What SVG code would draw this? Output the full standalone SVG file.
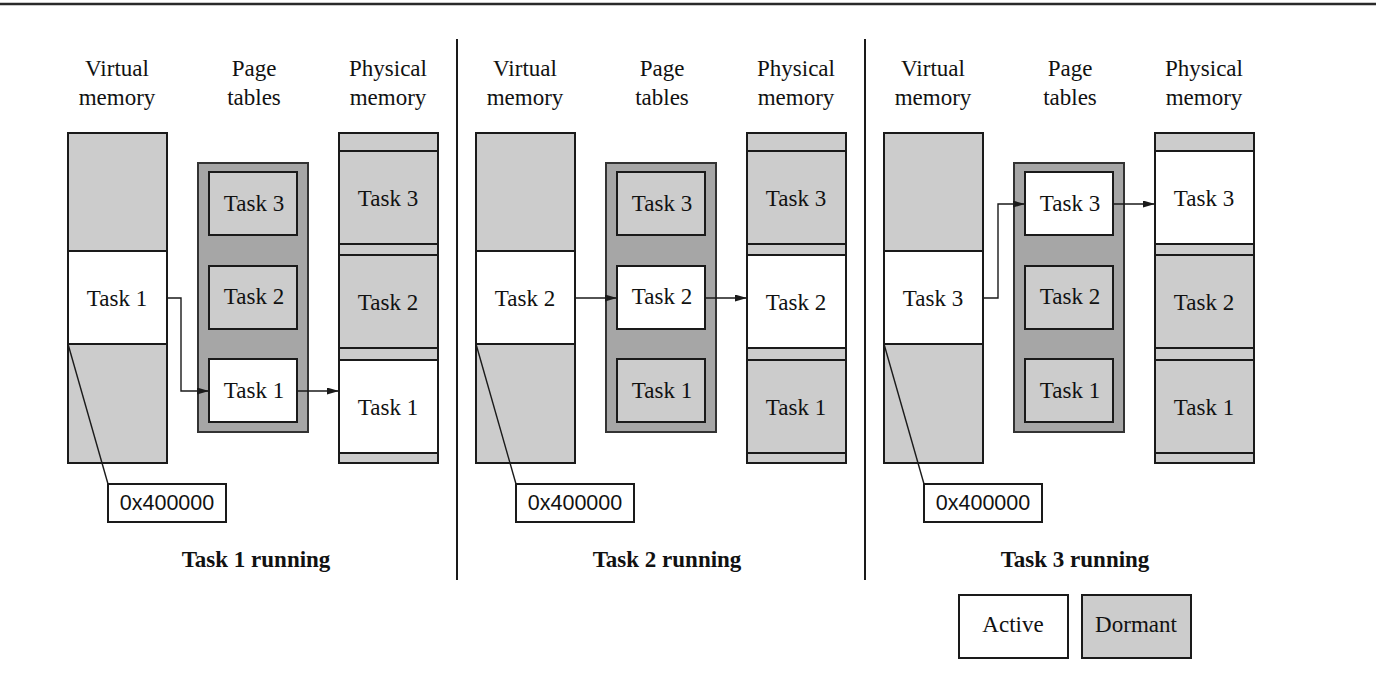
<svg xmlns="http://www.w3.org/2000/svg" width="1376" height="696" viewBox="0 0 1376 696">
<defs>
<style>
.bg{fill:#ffffff}
.g{fill:#cccccc;stroke:#1a1a1a;stroke-width:2}
.w{fill:#ffffff;stroke:#1a1a1a;stroke-width:2}
.pt{fill:#a6a6a6;stroke:#333333;stroke-width:2}
.t{font-family:"Liberation Serif","Times New Roman",serif;font-size:23px;fill:#111;text-anchor:middle}
.cap{font-family:"Liberation Serif","Times New Roman",serif;font-size:23px;font-weight:bold;fill:#111;text-anchor:middle}
.mono{font-family:"Liberation Sans",Arial,sans-serif;font-size:21.5px;fill:#111;text-anchor:middle}
.sep{stroke:#1a1a1a;stroke-width:2;fill:none}
.con{stroke:#1a1a1a;stroke-width:1.4;fill:none}
</style>
<marker id="ah" markerWidth="12" markerHeight="7" refX="12" refY="3.5" orient="auto" markerUnits="userSpaceOnUse">
<path d="M0,0 L12,3.5 L0,7 z" fill="#1a1a1a"/>
</marker>
</defs>
<rect class="bg" x="0" y="0" width="1376" height="696"/>
<line x1="0" y1="4" x2="1376" y2="4" stroke="#2a2a2a" stroke-width="2.5"/>
<line class="sep" x1="457" y1="39" x2="457" y2="580"/>
<line class="sep" x1="865" y1="39" x2="865" y2="580"/>

<!-- Panel 1 -->
<g id="p1-headers">
<text class="t" x="117" y="76">Virtual</text><text class="t" x="117" y="105">memory</text>
<text class="t" x="254" y="76">Page</text><text class="t" x="254" y="105">tables</text>
<text class="t" x="388" y="76">Physical</text><text class="t" x="388" y="105">memory</text>
</g>
<g id="p1-virtual">
<rect class="g" x="68" y="133" width="99" height="330"/>
<rect class="w" x="68" y="251" width="99" height="93"/>
<text class="t" x="117" y="306">Task 1</text>
</g>
<g id="p1-pagetables">
<rect class="pt" x="198" y="163" width="110" height="269"/>
<rect class="g" x="209" y="172" width="88" height="63"/><text class="t" x="254" y="211">Task 3</text>
<rect class="g" x="209" y="266" width="88" height="63"/><text class="t" x="254" y="304">Task 2</text>
<rect class="w" x="209" y="359" width="88" height="63"/><text class="t" x="254" y="398">Task 1</text>
</g>
<g id="p1-physical">
<rect class="g" x="339" y="133" width="99" height="330"/>
<rect class="g" x="339" y="151" width="99" height="93"/><text class="t" x="388" y="206">Task 3</text>
<rect class="g" x="339" y="255" width="99" height="93"/><text class="t" x="388" y="310">Task 2</text>
<rect class="w" x="339" y="360" width="99" height="93"/><text class="t" x="388" y="415">Task 1</text>
</g>
<g id="p1-addr">
<rect class="w" x="108" y="484" width="118" height="38"/>
<text class="mono" x="167" y="510">0x400000</text>
</g>
<text class="cap" x="256" y="567">Task 1 running</text>

<!-- Panel 2 -->
<g id="p2-headers">
<text class="t" x="525" y="76">Virtual</text><text class="t" x="525" y="105">memory</text>
<text class="t" x="662" y="76">Page</text><text class="t" x="662" y="105">tables</text>
<text class="t" x="796" y="76">Physical</text><text class="t" x="796" y="105">memory</text>
</g>
<g id="p2-virtual">
<rect class="g" x="476" y="133" width="99" height="330"/>
<rect class="w" x="476" y="251" width="99" height="93"/>
<text class="t" x="525" y="306">Task 2</text>
</g>
<g id="p2-pagetables">
<rect class="pt" x="606" y="163" width="110" height="269"/>
<rect class="g" x="617" y="172" width="88" height="63"/><text class="t" x="662" y="211">Task 3</text>
<rect class="w" x="617" y="266" width="88" height="63"/><text class="t" x="662" y="304">Task 2</text>
<rect class="g" x="617" y="359" width="88" height="63"/><text class="t" x="662" y="398">Task 1</text>
</g>
<g id="p2-physical">
<rect class="g" x="747" y="133" width="99" height="330"/>
<rect class="g" x="747" y="151" width="99" height="93"/><text class="t" x="796" y="206">Task 3</text>
<rect class="w" x="747" y="255" width="99" height="93"/><text class="t" x="796" y="310">Task 2</text>
<rect class="g" x="747" y="360" width="99" height="93"/><text class="t" x="796" y="415">Task 1</text>
</g>
<g id="p2-addr">
<rect class="w" x="516" y="484" width="118" height="38"/>
<text class="mono" x="575" y="510">0x400000</text>
</g>
<text class="cap" x="667" y="567">Task 2 running</text>

<!-- Panel 3 -->
<g id="p3-headers">
<text class="t" x="933" y="76">Virtual</text><text class="t" x="933" y="105">memory</text>
<text class="t" x="1070" y="76">Page</text><text class="t" x="1070" y="105">tables</text>
<text class="t" x="1204" y="76">Physical</text><text class="t" x="1204" y="105">memory</text>
</g>
<g id="p3-virtual">
<rect class="g" x="884" y="133" width="99" height="330"/>
<rect class="w" x="884" y="251" width="99" height="93"/>
<text class="t" x="933" y="306">Task 3</text>
</g>
<g id="p3-pagetables">
<rect class="pt" x="1014" y="163" width="110" height="269"/>
<rect class="w" x="1025" y="172" width="88" height="63"/><text class="t" x="1070" y="211">Task 3</text>
<rect class="g" x="1025" y="266" width="88" height="63"/><text class="t" x="1070" y="304">Task 2</text>
<rect class="g" x="1025" y="359" width="88" height="63"/><text class="t" x="1070" y="398">Task 1</text>
</g>
<g id="p3-physical">
<rect class="g" x="1155" y="133" width="99" height="330"/>
<rect class="w" x="1155" y="151" width="99" height="93"/><text class="t" x="1204" y="206">Task 3</text>
<rect class="g" x="1155" y="255" width="99" height="93"/><text class="t" x="1204" y="310">Task 2</text>
<rect class="g" x="1155" y="360" width="99" height="93"/><text class="t" x="1204" y="415">Task 1</text>
</g>
<g id="p3-addr">
<rect class="w" x="924" y="484" width="118" height="38"/>
<text class="mono" x="983" y="510">0x400000</text>
</g>
<text class="cap" x="1075" y="567">Task 3 running</text>

<!-- Legend -->
<g id="legend-active">
<rect class="w" x="959" y="595" width="109" height="63"/>
<text class="t" x="1013" y="632">Active</text>
</g>
<g id="legend-dormant">
<rect class="g" x="1082" y="595" width="109" height="63"/>
<text class="t" x="1136" y="632">Dormant</text>
</g>

<!-- Connectors -->
<g id="connectors">
<path class="con" d="M167,298 H181 V391 H209" marker-end="url(#ah)"/>
<path class="con" d="M297,391 H339" marker-end="url(#ah)"/>
<line class="con" x1="68" y1="344" x2="108" y2="484"/>
<path class="con" d="M575,298 H617" marker-end="url(#ah)"/>
<path class="con" d="M705,298 H747" marker-end="url(#ah)"/>
<line class="con" x1="476" y1="344" x2="516" y2="484"/>
<path class="con" d="M983,298 H998 V204 H1025" marker-end="url(#ah)"/>
<path class="con" d="M1113,204 H1155" marker-end="url(#ah)"/>
<line class="con" x1="884" y1="344" x2="924" y2="484"/>
</g>
</svg>
